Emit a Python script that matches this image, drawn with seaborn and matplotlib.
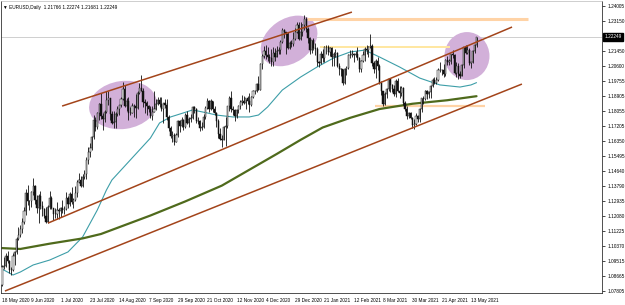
import numpy as np
import matplotlib
matplotlib.use("Agg")
import matplotlib.pyplot as plt
import seaborn as sns
from matplotlib.patches import Ellipse
from matplotlib.transforms import Affine2D

# ---------------- data (EURUSD daily, 18 May 2020 .. 18 May 2021) ----------------
opens = [
    1.0818, 1.0916, 1.0924, 1.0980, 1.0950, 1.0901, 1.0900, 1.0981, 1.1005, 1.1077,
    1.1100, 1.1135, 1.1171, 1.1234, 1.1336, 1.1290, 1.1294, 1.1342, 1.1375, 1.1300, 1.1255,
    1.1320, 1.1264, 1.1245, 1.1205, 1.1175, 1.1260, 1.1310, 1.1250, 1.1220, 1.1220, 1.1240,
    1.1235, 1.1250, 1.1240, 1.1245, 1.1310, 1.1275, 1.1330, 1.1285, 1.1300, 1.1340, 1.1400,
    1.1410, 1.1380, 1.1430, 1.1445, 1.1525, 1.1570, 1.1595, 1.1655, 1.1750, 1.1715, 1.1790, 1.1845,
    1.1775, 1.1760, 1.1800, 1.1865, 1.1875, 1.1785, 1.1735, 1.1740, 1.1785, 1.1815, 1.1840,
    1.1870, 1.1930, 1.1835, 1.1860, 1.1795, 1.1795, 1.1835, 1.1830, 1.1820, 1.1905,
    1.1935, 1.1915, 1.1855, 1.1850, 1.1835, 1.1815, 1.1775, 1.1800, 1.1815, 1.1845, 1.1865,
    1.1845, 1.1815, 1.1850, 1.1840, 1.1770, 1.1705, 1.1660, 1.1670, 1.1630, 1.1665, 1.1745,
    1.1720, 1.1750, 1.1715, 1.1780, 1.1735, 1.1760, 1.1765, 1.1825, 1.1815, 1.1745, 1.1745,
    1.1705, 1.1715, 1.1770, 1.1820, 1.1860, 1.1815, 1.1860, 1.1815, 1.1795, 1.1745, 1.1675,
    1.1645, 1.1640, 1.1715, 1.1720, 1.1830, 1.1875, 1.1815, 1.1810, 1.1775, 1.1810, 1.1835,
    1.1855, 1.1860, 1.1850, 1.1875, 1.1860, 1.1840, 1.1885, 1.1915, 1.1915, 1.1960,
    1.1925, 1.2070, 1.2115, 1.2145, 1.2120, 1.2110, 1.2105, 1.2080, 1.2135, 1.2110, 1.2145,
    1.2150, 1.2195, 1.2265, 1.2255, 1.2240, 1.2160, 1.2190, 1.2185, 1.2215, 1.2250, 1.2295,
    1.2215, 1.2250, 1.2295, 1.2325, 1.2270, 1.2220, 1.2150, 1.2205, 1.2160, 1.2155,
    1.2080, 1.2075, 1.2130, 1.2105, 1.2165, 1.2170, 1.2140, 1.2160, 1.2110, 1.2125,
    1.2135, 1.2060, 1.2040, 1.2040, 1.1965, 1.2045, 1.2050, 1.2120, 1.2120, 1.2130,
    1.2120, 1.2125, 1.2105, 1.2040, 1.2090, 1.2120, 1.2155, 1.2150, 1.2165, 1.2175,
    1.2075, 1.2045, 1.2090, 1.2060, 1.1965, 1.1915, 1.1845, 1.1900, 1.1930, 1.1985, 1.1950,
    1.1930, 1.1900, 1.1975, 1.1915, 1.1905, 1.1935, 1.1850, 1.1815, 1.1775, 1.1795, 1.1765, 1.1725,
    1.1730, 1.1775, 1.1760, 1.1815, 1.1875, 1.1870, 1.1915, 1.1900, 1.1910, 1.1945, 1.1980,
    1.1965, 1.1980, 1.2035, 1.2035, 1.2035, 1.2015, 1.2095, 1.2085, 1.2090, 1.2125, 1.2120,
    1.2020, 1.2060, 1.2015, 1.2005, 1.2065, 1.2165, 1.2135, 1.2150, 1.2075, 1.2080, 1.2145, 1.2177,
]
highs = [
    1.0928, 1.0975, 1.0995, 1.1008, 1.0960, 1.0915, 1.0996, 1.1010, 1.1090, 1.1147,
    1.1155, 1.1197, 1.1257, 1.1362, 1.1384, 1.1300, 1.1349, 1.1422, 1.1385, 1.1325, 1.1332,
    1.1350, 1.1290, 1.1255, 1.1256, 1.1270, 1.1349, 1.1320, 1.1255, 1.1250, 1.1286, 1.1255,
    1.1256, 1.1300, 1.1265, 1.1345, 1.1320, 1.1345, 1.1370, 1.1310, 1.1375, 1.1410, 1.1452,
    1.1435, 1.1445, 1.1470, 1.1545, 1.1600, 1.1620, 1.1660, 1.1780, 1.1770, 1.1800, 1.1850, 1.1908,
    1.1790, 1.1810, 1.1915, 1.1915, 1.1880, 1.1805, 1.1805, 1.1800, 1.1830, 1.1840, 1.1885,
    1.1966, 1.1950, 1.1880, 1.1885, 1.1825, 1.1850, 1.1845, 1.1900, 1.1915, 1.1965,
    1.2011, 1.1935, 1.1870, 1.1860, 1.1840, 1.1835, 1.1830, 1.1915, 1.1870, 1.1885, 1.1885,
    1.1885, 1.1850, 1.1870, 1.1872, 1.1780, 1.1720, 1.1690, 1.1680, 1.1680, 1.1750, 1.1755,
    1.1770, 1.1760, 1.1795, 1.1805, 1.1770, 1.1785, 1.1830, 1.1830, 1.1820, 1.1770, 1.1750,
    1.1740, 1.1785, 1.1830, 1.1880, 1.1865, 1.1870, 1.1860, 1.1830, 1.1800, 1.1760, 1.1710,
    1.1670, 1.1720, 1.1770, 1.1835, 1.1890, 1.1920, 1.1835, 1.1815, 1.1815, 1.1840, 1.1865,
    1.1895, 1.1890, 1.1870, 1.1890, 1.1905, 1.1890, 1.1925, 1.1925, 1.1965, 1.2000,
    1.2077, 1.2125, 1.2176, 1.2178, 1.2165, 1.2130, 1.2155, 1.2165, 1.2160, 1.2175, 1.2165,
    1.2210, 1.2273, 1.2270, 1.2255, 1.2250, 1.2200, 1.2210, 1.2250, 1.2275, 1.2310, 1.2310,
    1.2310, 1.2300, 1.2349, 1.2340, 1.2280, 1.2225, 1.2210, 1.2220, 1.2190, 1.2165,
    1.2090, 1.2145, 1.2155, 1.2175, 1.2180, 1.2180, 1.2170, 1.2165, 1.2140, 1.2155,
    1.2140, 1.2075, 1.2050, 1.2045, 1.2050, 1.2060, 1.2130, 1.2150, 1.2150, 1.2135,
    1.2145, 1.2170, 1.2110, 1.2095, 1.2145, 1.2170, 1.2180, 1.2175, 1.2243, 1.2185,
    1.2090, 1.2100, 1.2110, 1.2070, 1.1975, 1.1920, 1.1910, 1.1935, 1.1990, 1.1990, 1.1955,
    1.1950, 1.1985, 1.1990, 1.1945, 1.1945, 1.1940, 1.1860, 1.1830, 1.1800, 1.1800, 1.1770, 1.1760,
    1.1790, 1.1780, 1.1820, 1.1880, 1.1890, 1.1925, 1.1925, 1.1920, 1.1950, 1.1990, 1.1995,
    1.1995, 1.2048, 1.2080, 1.2045, 1.2070, 1.2100, 1.2115, 1.2100, 1.2130, 1.2150, 1.2125,
    1.2080, 1.2075, 1.2030, 1.2070, 1.2170, 1.2180, 1.2180, 1.2160, 1.2085, 1.2150, 1.2185, 1.2227,
]
lows = [
    1.0808, 1.0905, 1.0915, 1.0940, 1.0886, 1.0870, 1.0895, 1.0930, 1.0990, 1.1072,
    1.1090, 1.1110, 1.1160, 1.1211, 1.1270, 1.1240, 1.1260, 1.1325, 1.1275, 1.1225, 1.1167,
    1.1245, 1.1210, 1.1195, 1.1168, 1.1170, 1.1245, 1.1245, 1.1185, 1.1195, 1.1190, 1.1190,
    1.1200, 1.1225, 1.1220, 1.1240, 1.1255, 1.1265, 1.1275, 1.1255, 1.1290, 1.1315, 1.1395,
    1.1370, 1.1370, 1.1420, 1.1420, 1.1505, 1.1545, 1.1580, 1.1645, 1.1690, 1.1700, 1.1755, 1.1760,
    1.1695, 1.1740, 1.1790, 1.1840, 1.1755, 1.1730, 1.1710, 1.1710, 1.1775, 1.1780, 1.1825,
    1.1865, 1.1825, 1.1805, 1.1755, 1.1780, 1.1790, 1.1770, 1.1765, 1.1815, 1.1900,
    1.1915, 1.1825, 1.1790, 1.1780, 1.1800, 1.1765, 1.1755, 1.1800, 1.1810, 1.1840, 1.1825,
    1.1805, 1.1735, 1.1820, 1.1750, 1.1690, 1.1650, 1.1627, 1.1612, 1.1625, 1.1655, 1.1685,
    1.1715, 1.1695, 1.1705, 1.1730, 1.1715, 1.1740, 1.1760, 1.1795, 1.1735, 1.1730, 1.1690,
    1.1695, 1.1705, 1.1760, 1.1815, 1.1800, 1.1810, 1.1800, 1.1780, 1.1715, 1.1650, 1.1640,
    1.1602, 1.1640, 1.1603, 1.1710, 1.1805, 1.1800, 1.1780, 1.1745, 1.1765, 1.1790, 1.1815,
    1.1840, 1.1845, 1.1815, 1.1845, 1.1800, 1.1830, 1.1880, 1.1900, 1.1910, 1.1925,
    1.1925, 1.2040, 1.2105, 1.2100, 1.2090, 1.2075, 1.2060, 1.2060, 1.2090, 1.2110, 1.2125,
    1.2130, 1.2190, 1.2220, 1.2130, 1.2155, 1.2155, 1.2170, 1.2175, 1.2205, 1.2245, 1.2210,
    1.2210, 1.2230, 1.2265, 1.2255, 1.2190, 1.2130, 1.2135, 1.2150, 1.2120, 1.2060,
    1.2055, 1.2070, 1.2080, 1.2085, 1.2130, 1.2120, 1.2115, 1.2060, 1.2060, 1.2110,
    1.2055, 1.2010, 1.2005, 1.1950, 1.1955, 1.2010, 1.2045, 1.2105, 1.2110, 1.2085,
    1.2110, 1.2095, 1.2025, 1.2025, 1.2085, 1.2090, 1.2130, 1.2110, 1.2160, 1.2060,
    1.2020, 1.1990, 1.2035, 1.1960, 1.1895, 1.1835, 1.1840, 1.1875, 1.1915, 1.1910, 1.1910,
    1.1890, 1.1885, 1.1910, 1.1875, 1.1890, 1.1840, 1.1805, 1.1760, 1.1765, 1.1760, 1.1705, 1.1704,
    1.1725, 1.1740, 1.1740, 1.1800, 1.1845, 1.1865, 1.1870, 1.1875, 1.1880, 1.1940, 1.1955,
    1.1955, 1.1975, 1.2025, 1.2010, 1.1995, 1.2005, 1.2065, 1.2065, 1.2070, 1.2105, 1.2015,
    1.1995, 1.1985, 1.1990, 1.2000, 1.2050, 1.2125, 1.2125, 1.2065, 1.2050, 1.2075, 1.2135, 1.2168,
]
closes = [
    1.0916, 1.0924, 1.0980, 1.0950, 1.0901, 1.0900, 1.0981, 1.1005, 1.1077, 1.1100,
    1.1135, 1.1171, 1.1234, 1.1336, 1.1290, 1.1294, 1.1342, 1.1375, 1.1300, 1.1255, 1.1320,
    1.1264, 1.1245, 1.1205, 1.1175, 1.1260, 1.1310, 1.1250, 1.1220, 1.1220, 1.1240, 1.1235,
    1.1250, 1.1240, 1.1245, 1.1310, 1.1275, 1.1330, 1.1285, 1.1300, 1.1340, 1.1400, 1.1410,
    1.1380, 1.1430, 1.1445, 1.1525, 1.1570, 1.1595, 1.1655, 1.1750, 1.1715, 1.1790, 1.1845, 1.1775,
    1.1760, 1.1800, 1.1865, 1.1875, 1.1785, 1.1735, 1.1740, 1.1785, 1.1815, 1.1840, 1.1870,
    1.1930, 1.1835, 1.1860, 1.1795, 1.1795, 1.1835, 1.1830, 1.1820, 1.1905, 1.1935,
    1.1915, 1.1855, 1.1850, 1.1835, 1.1815, 1.1775, 1.1800, 1.1815, 1.1845, 1.1865, 1.1845,
    1.1815, 1.1850, 1.1840, 1.1770, 1.1705, 1.1660, 1.1670, 1.1630, 1.1665, 1.1745, 1.1720,
    1.1750, 1.1715, 1.1780, 1.1735, 1.1760, 1.1765, 1.1825, 1.1815, 1.1745, 1.1745, 1.1705,
    1.1715, 1.1770, 1.1820, 1.1860, 1.1815, 1.1860, 1.1815, 1.1795, 1.1745, 1.1675, 1.1645,
    1.1640, 1.1715, 1.1720, 1.1830, 1.1875, 1.1815, 1.1810, 1.1775, 1.1810, 1.1835, 1.1855,
    1.1860, 1.1850, 1.1875, 1.1860, 1.1840, 1.1885, 1.1915, 1.1915, 1.1960, 1.1925,
    1.2070, 1.2115, 1.2145, 1.2120, 1.2110, 1.2105, 1.2080, 1.2135, 1.2110, 1.2145, 1.2150,
    1.2195, 1.2265, 1.2255, 1.2240, 1.2160, 1.2190, 1.2185, 1.2215, 1.2250, 1.2295, 1.2215,
    1.2250, 1.2295, 1.2325, 1.2270, 1.2220, 1.2150, 1.2205, 1.2160, 1.2155, 1.2080,
    1.2075, 1.2130, 1.2105, 1.2165, 1.2170, 1.2140, 1.2160, 1.2110, 1.2125, 1.2135,
    1.2060, 1.2040, 1.2040, 1.1965, 1.2045, 1.2050, 1.2120, 1.2120, 1.2130, 1.2120,
    1.2125, 1.2105, 1.2040, 1.2090, 1.2120, 1.2155, 1.2150, 1.2165, 1.2175, 1.2075,
    1.2045, 1.2090, 1.2060, 1.1965, 1.1915, 1.1845, 1.1900, 1.1930, 1.1985, 1.1950, 1.1930,
    1.1900, 1.1975, 1.1915, 1.1905, 1.1935, 1.1850, 1.1815, 1.1775, 1.1795, 1.1765, 1.1725, 1.1730,
    1.1775, 1.1760, 1.1815, 1.1875, 1.1870, 1.1915, 1.1900, 1.1910, 1.1945, 1.1980, 1.1965,
    1.1980, 1.2035, 1.2035, 1.2035, 1.2015, 1.2095, 1.2085, 1.2090, 1.2125, 1.2120, 1.2020,
    1.2060, 1.2015, 1.2005, 1.2065, 1.2165, 1.2135, 1.2150, 1.2075, 1.2080, 1.2145, 1.2177, 1.22249,
]

# moving averages (bar index, price)
ma_fast_bar = [0, 6, 10, 17, 26, 36, 44, 52, 57, 60, 81, 86, 92, 99, 104, 112, 117, 126,
               135, 140, 145, 153, 163, 172, 181, 190, 198, 206, 217, 228, 239, 250, 256, 259]
ma_fast_val = [1.0906, 1.0872, 1.0889, 1.0929, 1.0957, 1.1003, 1.1088, 1.1241, 1.1355, 1.1412,
               1.1650, 1.1736, 1.1770, 1.1793, 1.1810, 1.1793, 1.1781, 1.1770, 1.1770, 1.1781,
               1.1827, 1.1923, 1.1997, 1.2054, 1.2105, 1.2139, 1.2150, 1.2111, 1.2054, 1.1991,
               1.1952, 1.1940, 1.1952, 1.1965]
ma_slow_bar = [0, 10, 26, 44, 54, 63, 81, 100, 120, 150, 163, 175, 190, 206, 224, 243, 259]
ma_slow_val = [1.1025, 1.1020, 1.1050, 1.1080, 1.1105, 1.1140, 1.1210, 1.1290, 1.1380, 1.1560,
               1.1640, 1.1710, 1.1765, 1.1815, 1.1845, 1.1865, 1.1888]

x_tick_bars = [0, 16, 32, 48, 64, 80, 96, 112, 128, 144, 160, 176, 192, 208, 224, 240, 256]
x_tick_labels = ["18 May 2020", "9 Jun 2020", "1 Jul 2020", "23 Jul 2020", "14 Aug 2020",
                 "7 Sep 2020", "29 Sep 2020", "21 Oct 2020", "12 Nov 2020", "4 Dec 2020",
                 "29 Dec 2020", "21 Jan 2021", "12 Feb 2021", "8 Mar 2021", "30 Mar 2021",
                 "21 Apr 2021", "13 May 2021"]
y_tick_labels = ["1.24005", "1.23150", "1.21450", "1.20600", "1.19755", "1.18905", "1.18055",
                 "1.17205", "1.16350", "1.15495", "1.14640", "1.13790", "1.12935", "1.12080",
                 "1.11225", "1.10370", "1.09515", "1.08665", "1.07805"]
last_price = 1.22249
title_text = "\u25bc EURUSD,Daily  1.21766 1.22274 1.21681 1.22249"

# trend / channel lines (bar index, price) pairs
channel_lines = [((32.8, 1.1832), (191.0, 1.2366)),
                 ((25.1, 1.1167), (278.4, 1.2281)),
                 ((1.6, 1.0781), (283.8, 1.1957))]
# horizontal levels (bar start, bar end, price, colour, width)
levels = [(166.5, 287.0, 1.2327, "#ffd3a6", 2.2),
          (173.6, 244.5, 1.2168, "#ffe7a0", 1.4),
          (203.6, 263.6, 1.1832, "#ffd3a6", 1.6)]
# highlight ellipses: centre bar, centre price, width px, height px, angle
ellipses = [(66.0, 1.1838, 68, 48, 8),
            (156.7, 1.2202, 62, 44, 35),
            (253.8, 1.2116, 45, 48, 0)]

# ---------------- drawing ----------------
sns.set_theme(style="white")
plt.rcParams['font.family'] = ['Liberation Sans', 'DejaVu Sans']

W, H = 625, 305
fig = plt.figure(figsize=(W / 100, H / 100), dpi=100)
ax = fig.add_axes([1 / W, 12 / H, 601 / W, 292 / H])
XMIN, XMAX = -0.55, 327.5
YMIN, YMAX = 1.07698, 1.24289
ax.set_xlim(XMIN, XMAX)
ax.set_ylim(YMIN, YMAX)

o = np.array(opens); h = np.array(highs); l = np.array(lows); c = np.array(closes)
n = min(len(o), len(h), len(l), len(c))
o, h, l, c = o[:n], h[:n], l[:n], c[:n]
x = np.arange(n)

ppb = 601 / (XMAX - XMIN)
ppp = 292 / (YMAX - YMIN)
trans = Affine2D().scale(1 / ppb, 1 / ppp) + ax.transData
for cx, cy, w, hh, a in ellipses:
    ax.add_patch(Ellipse((cx * ppb, cy * ppp), w, hh, angle=a, transform=trans,
                         facecolor="#d2b0d9", edgecolor="none", zorder=1))

ax.axhline(last_price, color="#c8c8c8", lw=0.6, zorder=0.5)
for x0, x1, p, col, lw in levels:
    ax.hlines(p, x0, x1, color=col, lw=lw, zorder=1.5)

sns.lineplot(x=ma_fast_bar, y=ma_fast_val, color="#3d9ea8", lw=0.8, ax=ax, zorder=2)
sns.lineplot(x=ma_slow_bar, y=ma_slow_val, color="#4f6a1c", lw=1.6, ax=ax, zorder=2)

ax.vlines(x, l, h, color="#111111", lw=0.6, zorder=3)
bull = c >= o
ax.bar(x[bull], (c - o)[bull], bottom=o[bull], width=0.65, color="#f2f2f2",
       edgecolor="#111111", lw=0.35, zorder=4)
ax.bar(x[~bull], (o - c)[~bull], bottom=c[~bull], width=0.65, color="#111111",
       edgecolor="#111111", lw=0.35, zorder=4)

for (x0, y0), (x1, y1) in channel_lines:
    ax.plot([x0, x1], [y0, y1], color="#a3441a", lw=1.1, zorder=5, solid_capstyle="butt")

# axes styling
ax.yaxis.tick_right()
ax.set_yticks([float(s) for s in y_tick_labels])
ax.set_yticklabels(y_tick_labels, fontsize=3.4)
ax.set_xticks(x_tick_bars)
ax.set_xticklabels(x_tick_labels, fontsize=3.4, ha="left")
ax.tick_params(axis="y", length=2.5, width=0.5, pad=1.2, colors="black", direction="out")
ax.tick_params(axis="x", length=2.5, width=0.5, pad=1.2, colors="black", direction="out")
ax.set_xlabel(""); ax.set_ylabel("")
ax.grid(False)
for side in ["left", "bottom", "right"]:
    ax.spines[side].set_color("#333333")
    ax.spines[side].set_linewidth(0.6)
ax.spines["top"].set_color("#bbbbbb")
ax.spines["top"].set_linewidth(0.5)

ax.annotate(f"{last_price:.5f}", xy=(1.0, last_price), xycoords=("axes fraction", "data"),
            xytext=(1.5, 0), textcoords="offset points", fontsize=3.4, color="white",
            ha="left", va="center",
            bbox=dict(boxstyle="square,pad=0.25", fc="black", ec="black"))
ax.text(0.004, 0.988, title_text, transform=ax.transAxes, fontsize=3.4, va="top", ha="left",
        color="black")

fig.savefig("out.png", dpi=100)
